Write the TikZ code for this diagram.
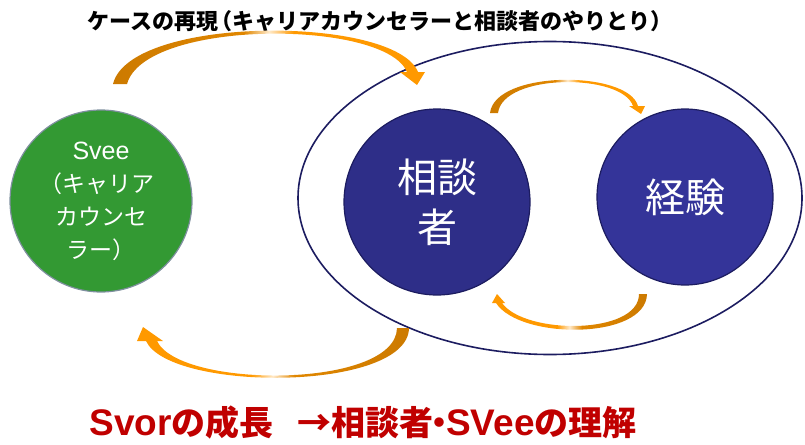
\documentclass[tikz,border=0pt]{standalone}
\usepackage{fontspec}
\usepackage{tikz}
\usetikzlibrary{shapes.geometric}
\newfontfamily\jpfont{Noto Sans CJK JP}
\newfontfamily\lsans{Liberation Sans}
\definecolor{sveegreen}{HTML}{339933}
\definecolor{sveerim}{HTML}{8090A0}
\definecolor{clientblue}{HTML}{2E2E88}
\definecolor{expblue}{HTML}{343499}
\definecolor{ringblue}{HTML}{1C1C60}
\definecolor{arrdark}{HTML}{CC7A00}
\definecolor{arrbright}{HTML}{FF9900}
\definecolor{arrlight}{HTML}{FFE9C8}
\definecolor{growred}{HTML}{C00000}
\pgfdeclarehorizontalshading{swoopfill}{100bp}{color(0bp)=(arrdark); color(25bp)=(arrdark); color(46bp)=(arrdark!60!arrbright); color(50bp)=(arrlight); color(54bp)=(arrbright); color(75bp)=(arrbright); color(100bp)=(arrbright)}
\newcommand{\latin}[1]{{\lsans\fontsize{37}{37}\selectfont #1}}
\newcommand{\openparen}{\hspace{-0.35em}（}
\newcommand{\closeparen}{）\hspace{-0.35em}}

\begin{document}
\begin{tikzpicture}[x=1pt,y=-1pt,
	member/.style={circle,line width=1.2pt,inner sep=0pt,text=white,align=center},
	swoop/.style={shading=swoopfill,draw=none}]
	\useasboundingbox (0,0) rectangle (805,444);
	
	\node[ellipse,draw=ringblue,line width=1.6pt,inner sep=0pt,
	      minimum width=504pt,minimum height=313pt] (ring) at (550,198) {};
	
	\node[member,draw=sveerim,fill=sveegreen,minimum size=182pt,
	      font=\jpfont\fontsize{23}{33}\selectfont] (svee) at (101,201)
	      {{\lsans\fontsize{25}{33}\selectfont Svee}\\\openparen キャリア\\カウンセ\\ラー\closeparen};
	\node[member,draw=ringblue,fill=clientblue,minimum size=186pt,
	      font=\jpfont\fontsize{40}{50}\selectfont] (client) at (437,202) {相談\\者};
	\node[member,draw=ringblue,fill=expblue,minimum size=176pt,
	      font=\jpfont\fontsize{40}{50}\selectfont] (exp) at (685,197) {経験};
	
	\node[anchor=west,font=\jpfont\bfseries\fontsize{22}{22}\selectfont] (case) at (84,21)
	      {ケースの再現\openparen キャリアカウンセラーと相談者のやりとり\closeparen};
	\node[anchor=west,text=growred,font=\jpfont\bfseries\fontsize{34}{34}\selectfont] (growth) at (86,423)
	      {\latin{\bfseries Svor}の成長\hspace{0.7em}→相談者\hspace{-0.33em}・\hspace{-0.3em}\latin{\bfseries SVee}の理解};
	
	\path[swoop] (113,84) .. controls (130,15) and (395,15) .. (418,72) -- (425,72) -- (417,85)
	      -- (400,72) -- (407,72) .. controls (385,19) and (145,19) .. (127,84) -- cycle;
	\path[swoop] (490,113) .. controls (495,70) and (628,70) .. (638,106) -- (645,106) -- (641,114)
	      -- (629,106) -- (633,106) .. controls (622,73) and (503,73) .. (498,113) -- cycle;
	\path[swoop,shading angle=180] (647,294) .. controls (646,340) and (520,340) .. (496,303) -- (492,303)
	      -- (497,294) -- (505,303) -- (502,303) .. controls (525,335) and (639,335) .. (639,294) -- cycle;
	\path[swoop,shading angle=180] (409,328) .. controls (408,392) and (170,392) .. (146,341) -- (137,341)
	      -- (143,327) -- (163,341) -- (157,341) .. controls (180,389) and (396,389) .. (397,328) -- cycle;
	
\end{tikzpicture}
\end{document}
